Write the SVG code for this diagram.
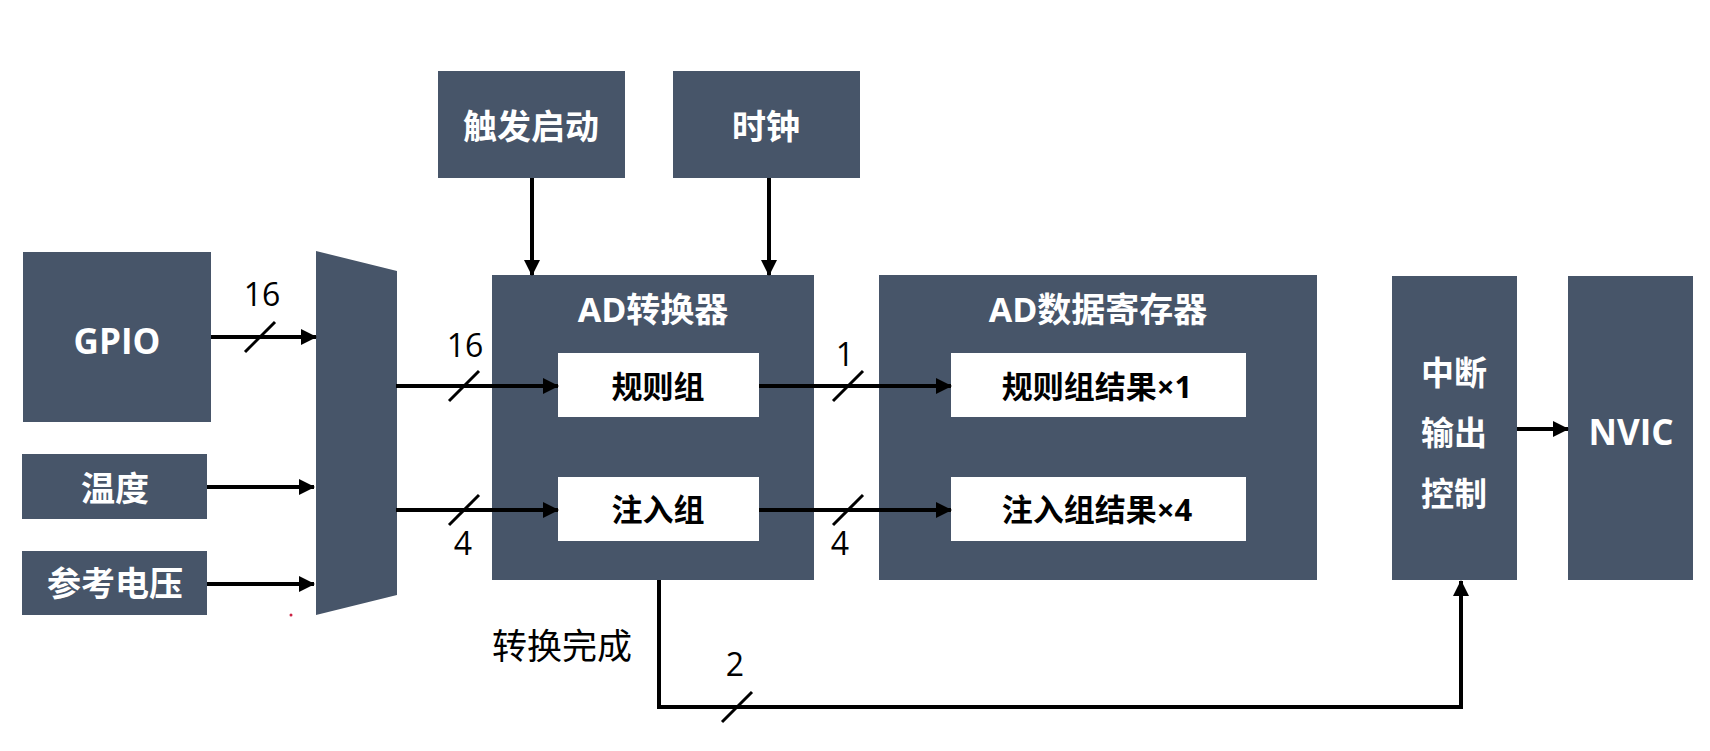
<svg xmlns="http://www.w3.org/2000/svg" width="1710" height="751" viewBox="0 0 1710 751">
<defs>
<marker id="ah" markerUnits="userSpaceOnUse" markerWidth="16" markerHeight="16" viewBox="0 0 16 16" refX="15" refY="8" orient="auto">
<path d="M0,0 L16,8 L0,16 Z" fill="#000"/>
</marker>
</defs>
<style>
.box{fill:#475569}
.inner{fill:#ffffff}
.wt{fill:#ffffff;font-family:"Open Sans","Noto Sans CJK SC",sans-serif;font-weight:bold;text-anchor:middle;dominant-baseline:central}
.bt{fill:#000000;font-family:"Open Sans","Noto Sans CJK SC",sans-serif;font-weight:bold;text-anchor:middle;dominant-baseline:central;font-size:31px}
.num{fill:#000;font-family:"Open Sans","Noto Sans CJK SC",sans-serif;font-size:32px;text-anchor:middle}
.lbl{fill:#000;font-family:"Open Sans","Noto Sans CJK SC",sans-serif;font-size:35px;text-anchor:middle;dominant-baseline:central}
.ln{stroke:#000;stroke-width:4;fill:none}
.arr{stroke:#000;stroke-width:4;fill:none;marker-end:url(#ah)}
.sl{stroke:#000;stroke-width:3}
</style>
<rect width="1710" height="751" fill="#ffffff"/>

<g id="gpio"><rect class="box" x="23" y="252" width="188" height="170"/><text class="wt" x="117" y="340" font-size="35">GPIO</text></g>
<g id="temp"><rect class="box" x="22" y="454" width="185" height="65"/><text class="wt" x="115" y="488" font-size="34">温度</text></g>
<g id="vref"><rect class="box" x="22" y="551" width="185" height="64"/><text class="wt" x="115" y="583" font-size="34">参考电压</text></g>
<g id="mux"><polygon class="box" points="316,251 397,271 397,595 316,615"/></g>
<g id="trigger"><rect class="box" x="438" y="71" width="187" height="107"/><text class="wt" x="531" y="126" font-size="34">触发启动</text></g>
<g id="clock"><rect class="box" x="673" y="71" width="187" height="107"/><text class="wt" x="766" y="126" font-size="34">时钟</text></g>
<g id="adc"><rect class="box" x="492" y="275" width="322" height="305"/><text class="wt" x="653" y="309" font-size="34">AD转换器</text>
<g id="regular"><rect class="inner" x="558" y="353" width="201" height="64"/><text class="bt" x="658" y="386">规则组</text></g>
<g id="injected"><rect class="inner" x="558" y="477" width="201" height="64"/><text class="bt" x="658" y="509">注入组</text></g>
</g>
<g id="dr"><rect class="box" x="879" y="275" width="438" height="305"/><text class="wt" x="1098" y="309" font-size="34">AD数据寄存器</text>
<g id="regres"><rect class="inner" x="951" y="353" width="295" height="64"/><text class="bt" x="1097" y="386">规则组结果×1</text></g>
<g id="injres"><rect class="inner" x="951" y="477" width="295" height="64"/><text class="bt" x="1097" y="509">注入组结果×4</text></g>
</g>
<g id="irq"><rect class="box" x="1392" y="276" width="125" height="304"/>
<text class="wt" x="1454" y="372" font-size="33">中断</text>
<text class="wt" x="1454" y="432" font-size="33">输出</text>
<text class="wt" x="1454" y="493" font-size="33">控制</text></g>
<g id="nvic"><rect class="box" x="1568" y="276" width="125" height="304"/><text class="wt" x="1631" y="431" font-size="35">NVIC</text></g>

<g id="connectors">
<line class="arr" x1="211" y1="337" x2="316" y2="337"/>
<line class="arr" x1="207" y1="487" x2="314" y2="487"/>
<line class="arr" x1="207" y1="584" x2="314" y2="584"/>
<line class="arr" x1="396" y1="386" x2="558" y2="386"/>
<line class="arr" x1="396" y1="510" x2="558" y2="510"/>
<line class="arr" x1="532" y1="178" x2="532" y2="275"/>
<line class="arr" x1="769" y1="178" x2="769" y2="275"/>
<line class="arr" x1="759" y1="386" x2="951" y2="386"/>
<line class="arr" x1="759" y1="510" x2="951" y2="510"/>
<line class="arr" x1="1517" y1="429" x2="1568" y2="429"/>
<polyline class="arr" points="659,580 659,707 1461,707 1461,581"/>
<line class="sl" x1="245" y1="352" x2="275" y2="322"/>
<line class="sl" x1="449" y1="401" x2="479" y2="371"/>
<line class="sl" x1="449" y1="525" x2="479" y2="495"/>
<line class="sl" x1="833" y1="401" x2="863" y2="371"/>
<line class="sl" x1="833" y1="525" x2="863" y2="495"/>
<line class="sl" x1="722" y1="722" x2="752" y2="692"/>
<text class="num" x="262" y="306">16</text>
<text class="num" x="465" y="357">16</text>
<text class="num" x="463" y="555">4</text>
<text class="num" x="845" y="366">1</text>
<text class="num" x="840" y="555">4</text>
<text class="num" x="735" y="676">2</text>
<text class="lbl" x="562" y="645">转换完成</text>
</g>
<circle cx="291" cy="615" r="1.5" fill="#cc2244"/>
</svg>
